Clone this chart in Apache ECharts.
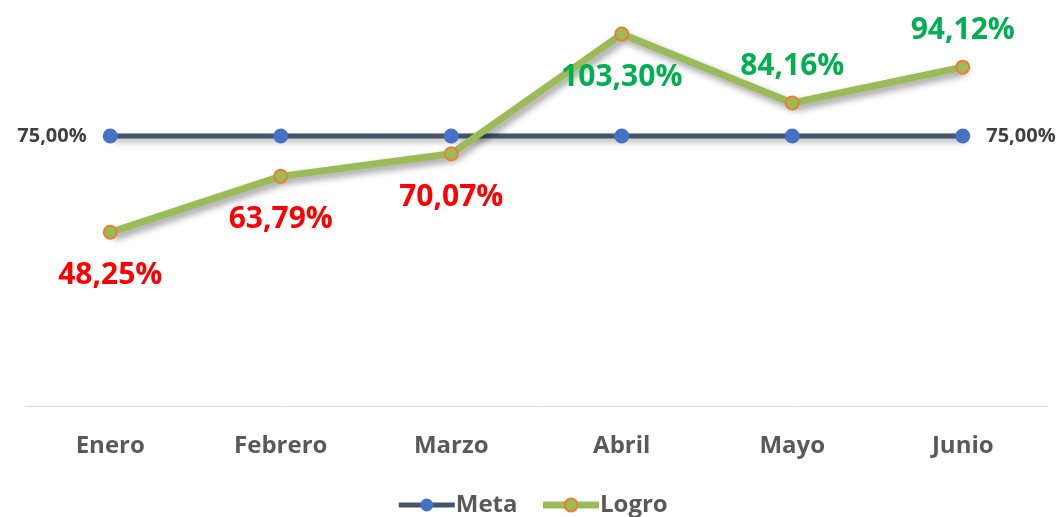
<!DOCTYPE html>
<html>
<head>
<meta charset="utf-8">
<script src="https://cdn.jsdelivr.net/npm/echarts@6/dist/echarts.min.js"></script>
<style>
html,body{margin:0;padding:0;background:#fff;}
#chart{width:1064px;height:517px;}
</style>
</head>
<body>
<div id="chart"></div>
<script>
const months = ['Enero','Febrero','Marzo','Abril','Mayo','Junio'];
const meta = [75, 75, 75, 75, 75, 75];
const logro = [48.25, 63.79, 70.07, 103.30, 84.16, 94.12];
// posición de la etiqueta de Logro por mes
const logroPos = ['bottom','bottom','bottom','bottom','top','top'];

const fmt = v => v.toFixed(2).replace('.', ',') + '%';
const font = '"Open Sans", sans-serif';

const myChart = echarts.init(document.getElementById('chart'));
myChart.setOption({
    animation:false,
    grid:{left:25,right:16,top:10,bottom:111},
    xAxis:{
        type:'category',
        data:months,
        axisTick:{show:false},
        axisLine:{lineStyle:{color:'#d9d9d9',width:1}},
        axisLabel:{color:'#595959',fontSize:24,fontWeight:'bold',fontFamily:font,margin:28}
    },
    yAxis:{
        type:'value',
        min:0,
        max:110,
        show:false,
        splitLine:{show:false}
    },
    legend:{
        bottom:-5,
        left:'center',
        itemWidth:56,
        itemHeight:16,
        itemGap:22,
        data:[
            {name:'Meta',lineStyle:{width:5}},
            {name:'Logro',lineStyle:{width:7}}
        ],
        textStyle:{color:'#595959',fontSize:24,fontWeight:'bold',fontFamily:font,padding:[0,0,0,-4]}
    },
    series:[
        {
            name:'Meta',
            type:'line',
            data:meta.map((v,i)=> i===meta.length-1 ? {value:v,label:{position:'right'}} : v),
            symbol:'circle',
            symbolSize:15,
            itemStyle:{color:'#4472C4'},
            lineStyle:{color:'#44546A',width:5,shadowColor:'rgba(0,0,0,0.35)',shadowBlur:6,shadowOffsetX:3,shadowOffsetY:3},
            label:{
                show:true,
                color:'#404040',
                fontSize:20,
                fontWeight:'bold',
                fontFamily:font,
                formatter:p => (p.dataIndex===0 || p.dataIndex===meta.length-1) ? fmt(p.value) : '',
                position:'left',
                distance:16
            },
            z:2
        },
        {
            name:'Logro',
            type:'line',
            data:logro.map((v,i)=>({
                value:v,
                label:{
                    position:logroPos[i],
                    distance:logroPos[i]==='bottom' ? 21 : 14,
                    color:v<75 ? '#FF0000' : '#00B050'
                }
            })),
            symbol:'circle',
            symbolSize:13,
            itemStyle:{color:'#9BBB59',borderColor:'#ED7D31',borderWidth:2},
            lineStyle:{color:'#9BBB59',width:7,shadowColor:'rgba(0,0,0,0.4)',shadowBlur:7,shadowOffsetX:3,shadowOffsetY:4},
            label:{
                show:true,
                fontSize:30,
                fontWeight:'bold',
                fontFamily:font,
                formatter:p => fmt(p.value)
            },
            z:3
        }
    ]
});
</script>
</body>
</html>
